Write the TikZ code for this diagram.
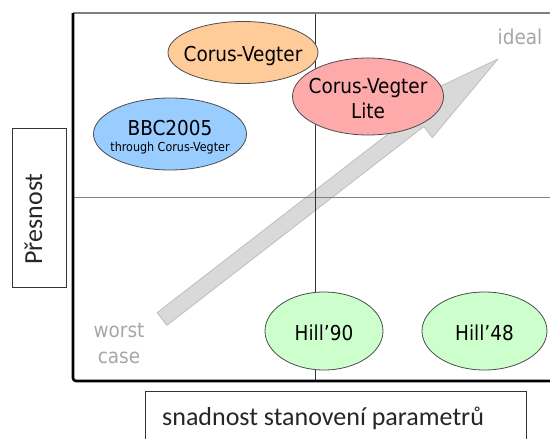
\documentclass[tikz,border=0pt]{standalone}
\usepackage{fontspec}
\usetikzlibrary{shapes.geometric,calc}
\newfontfamily\bubblefont{DejaVu Sans Condensed}
\newfontfamily\axisfont{Carlito}
\definecolor{cvorange}{RGB}{255,204,153}
\definecolor{cvpink}{RGB}{255,170,170}
\definecolor{bbcblue}{RGB}{153,204,255}
\definecolor{hillgreen}{RGB}{204,255,204}
\definecolor{arrowfill}{RGB}{217,217,217}
\definecolor{arrowedge}{RGB}{190,190,190}
\definecolor{hinttext}{RGB}{166,166,166}
\definecolor{gridgrey}{RGB}{128,128,128}
\tikzset{
  bubble/.style={ellipse, draw=black!70, line width=0.8pt, inner sep=0pt},
  bubbletext/.style={font=\bubblefont\fontsize{20.5}{25}\selectfont, text=black, inner sep=0pt, anchor=base},
  smalltext/.style={font=\bubblefont\fontsize{12.4}{15}\selectfont, text=black, inner sep=0pt, anchor=base},
  hint/.style={font=\bubblefont\fontsize{20.5}{25}\selectfont, text=hinttext, inner sep=0pt, anchor=base},
  axislabel/.style={font=\axisfont\fontsize{26}{30}\selectfont, text=black!85, inner sep=0pt},
  labelbox/.style={draw=black!80, line width=0.8pt},
}
\begin{document}
\begin{tikzpicture}[x=1pt,y=-1pt]
\useasboundingbox (0,0) rectangle (550,439);

% trend arrow from "worst case" towards "ideal"
\coordinate (tail) at (162,319);
\coordinate (tip) at (498,59);
\coordinate (hb) at ($(tip)!100pt!(tail)$);
\filldraw[fill=arrowfill, draw=arrowedge, line width=0.8pt, line join=round]
  ($(tail)!8pt!90:(tip)$) -- ($(hb)!8pt!90:(tip)$) -- ($(hb)!22pt!90:(tip)$) -- (tip)
  -- ($(hb)!22pt!-90:(tip)$) -- ($(hb)!8pt!-90:(tip)$) -- ($(tail)!8pt!-90:(tip)$) -- cycle;

% quadrant dividers
\draw[gridgrey, line width=0.9pt] (73,197) -- (550,197);
\draw[black!80, line width=0.8pt] (315.5,13) -- (315.5,381);

% plot frame
\draw[gridgrey, line width=1.3pt] (73,13) -- (550,13);
\draw[black, line width=2.6pt, rounded corners=3pt] (73,13) -- (73,381) -- (550,381);

% axis labels
\draw[labelbox] (12,128) rectangle (66,287);
\node[axislabel, rotate=90, anchor=base] (ylab) at (42,219) {Přesnost};
\draw[labelbox] (145,391) rectangle (526,450);
\node[axislabel, anchor=base west] (xlab) at (162,425) {snadnost stanovení parametrů};

% methods
\node[bubble, fill=cvorange, minimum width=150pt, minimum height=62pt] (cv) at (243,52.5) {};
\node[bubble, fill=cvpink, minimum width=151pt, minimum height=77pt] (cvl) at (368,96.5) {};
\node[bubble, fill=bbcblue, minimum width=153pt, minimum height=72pt] (bbc) at (170,134) {};
\node[bubble, fill=hillgreen, minimum width=118pt, minimum height=78pt] (h90) at (324,331) {};
\node[bubble, fill=hillgreen, minimum width=125pt, minimum height=78pt] (h48) at (484.5,331) {};

\node[bubbletext] (cvt) at (243,61.5) {Corus-Vegter};
\node[bubbletext] (cvlt1) at (368,93.3) {Corus-Vegter};
\node[bubbletext] (cvlt2) at (368,118.3) {Lite};
\node[bubbletext] (bbct1) at (170,135) {BBC2005};
\node[smalltext] (bbct2) at (170,151.5) {through Corus-Vegter};
\node[bubbletext] (h90t) at (324,340) {Hill’90};
\node[bubbletext] (h48t) at (484.5,340) {Hill’48};

% ends of the scale
\node[hint] (ideal) at (520,45) {ideal};
\node[hint] (worst1) at (119,337.5) {worst};
\node[hint] (worst2) at (119,363.3) {case};
\end{tikzpicture}
\end{document}
